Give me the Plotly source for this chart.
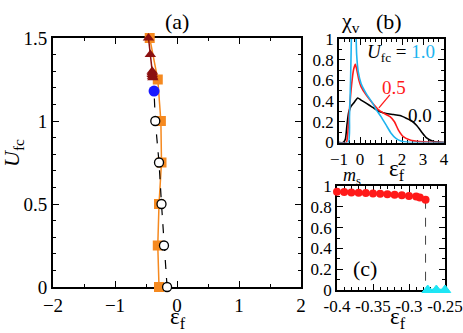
import plotly.graph_objects as go

W, H = 463, 333
SERIF = "Liberation Serif"

# ---------------- panel (a): U_fc vs eps_f ----------------
u_sq = [0.0, 0.25, 0.5, 0.75, 1.0, 1.25, 1.5]
eps_sq = [-0.29, -0.31, -0.29, -0.25, -0.26, -0.31, -0.44]

u_circ = [0.0, 0.25, 0.5, 0.75, 1.0]
eps_circ = [-0.16, -0.21, -0.25, -0.29, -0.35]

u_blue = [1.18]
eps_blue = [-0.37]

u_tri = [1.26, 1.27, 1.28, 1.29, 1.3, 1.4, 1.5]
eps_tri = [-0.39, -0.395, -0.40, -0.40, -0.40, -0.43, -0.46]

# ---------------- panel (b): chi_v vs eps_f ----------------
eps_u00 = [-1, -0.8, -0.7, -0.62, -0.54, -0.43, -0.27, -0.11, 0.05, 0.29, 0.6, 0.92,
           1.24, 1.6, 1.9, 2.2, 2.45, 2.7, 2.94, 3.17, 3.5, 4]
chi_u00 = [0, 0, 0.03, 0.17, 0.29, 0.35, 0.39, 0.43, 0.41, 0.38, 0.34, 0.30,
           0.28, 0.27, 0.26, 0.235, 0.21, 0.165, 0.10, 0.045, 0.01, 0]

eps_u05 = [-1, -0.65, -0.6, -0.51, -0.4, -0.3, -0.22, -0.15, -0.05, 0.05, 0.29, 0.6,
           0.92, 1.24, 1.43, 1.64, 1.83, 2.06, 2.38, 2.86, 4]
chi_u05 = [0, 0, 0.05, 0.30, 0.56, 0.71, 0.755, 0.70, 0.60, 0.54, 0.46, 0.38,
           0.31, 0.27, 0.25, 0.20, 0.12, 0.056, 0.024, 0.008, 0]

eps_u10 = [-1, -0.56, -0.5, -0.45, -0.42, -0.38, -0.3, -0.2, -0.16, -0.08, 0.05, 0.29,
           0.6, 0.76, 1.0, 1.24, 1.48, 1.71, 1.95, 2.3, 4]
chi_u10 = [0, 0, 0.25, 0.6, 0.9, 1.3, 1.5, 1.15, 0.85, 0.68, 0.57, 0.475,
           0.38, 0.32, 0.25, 0.17, 0.09, 0.04, 0.015, 0.003, 0]

# ---------------- panel (c): m_s vs eps_f ----------------
ms_eps = [-0.4, -0.39, -0.38, -0.37, -0.36, -0.35, -0.34, -0.33, -0.32, -0.31,
          -0.30, -0.29, -0.285, -0.277]
ms_val = [0.945, 0.942, 0.938, 0.935, 0.932, 0.928, 0.925, 0.92, 0.915, 0.91,
          0.905, 0.898, 0.89, 0.868]
ms0_eps = [-0.274, -0.262, -0.25]
ms0_val = [0, 0, 0]

ORANGE = "#f5891f"
DARKRED = "#8b1010"
BLUE = "#1a1aff"
SKY = "#1eb4f0"
RED = "#ff1a1a"
CYAN = "#1ee6f5"


def px(x):
    return x / W


def py(y):
    return 1 - y / H


fig = go.Figure()

# panel (a)
fig.add_trace(go.Scatter(x=eps_sq, y=u_sq, mode="lines+markers",
                         line=dict(color=ORANGE, width=1.5),
                         marker=dict(symbol="square", size=10, color=ORANGE),
                         xaxis="x", yaxis="y", cliponaxis=False))
fig.add_trace(go.Scatter(x=eps_circ + eps_blue, y=u_circ + u_blue, mode="lines",
                         line=dict(color="black", width=1.2, dash="dash"),
                         xaxis="x", yaxis="y"))
fig.add_trace(go.Scatter(x=eps_circ, y=u_circ, mode="markers",
                         marker=dict(symbol="circle", size=9, color="white",
                                     line=dict(color="black", width=1.3)),
                         xaxis="x", yaxis="y", cliponaxis=False))
fig.add_trace(go.Scatter(x=eps_blue, y=u_blue, mode="markers",
                         marker=dict(symbol="circle", size=11, color=BLUE),
                         xaxis="x", yaxis="y"))
fig.add_trace(go.Scatter(x=eps_tri, y=u_tri, mode="lines+markers",
                         line=dict(color=DARKRED, width=1.5),
                         marker=dict(symbol="triangle-up", size=10, color=DARKRED),
                         xaxis="x", yaxis="y", cliponaxis=False))

# panel (b)
for ex, cy, col in [(eps_u00, chi_u00, "black"), (eps_u05, chi_u05, RED),
                    (eps_u10, chi_u10, SKY)]:
    fig.add_trace(go.Scatter(x=ex, y=cy, mode="lines",
                             line=dict(color=col, width=1.6, shape="spline", smoothing=0.6),
                             xaxis="x2", yaxis="y2"))

# panel (c)
fig.add_trace(go.Scatter(x=[ms_eps[-1], ms_eps[-1]], y=[ms_val[-1], 0], mode="lines",
                         line=dict(color="#444", width=1, dash="dash"),
                         xaxis="x3", yaxis="y3"))
fig.add_trace(go.Scatter(x=ms_eps, y=ms_val, mode="lines+markers",
                         line=dict(color=RED, width=1.5),
                         marker=dict(symbol="circle", size=8, color=RED),
                         xaxis="x3", yaxis="y3", cliponaxis=False))
fig.add_trace(go.Scatter(x=ms0_eps, y=ms0_val, mode="lines+markers",
                         line=dict(color=CYAN, width=2.5),
                         marker=dict(symbol="triangle-up", size=10, color=CYAN,
                                     line=dict(color=CYAN, width=1)),
                         xaxis="x3", yaxis="y3", cliponaxis=False))


def ax(domain, rng, dtick, minor, size, lw, anchor, tickvals=None, ticktext=None):
    d = dict(domain=domain, range=rng, dtick=dtick, tick0=0, ticks="inside", ticklen=6,
             tickwidth=1.2, tickcolor="black", showline=True, linecolor="black", linewidth=lw,
             mirror="allticks", showgrid=False, zeroline=False, anchor=anchor,
             automargin=False, layer="below traces",
             tickfont=dict(family=SERIF, size=size, color="black"), tickangle=0,
             minor=dict(dtick=minor, ticks="inside", ticklen=3, tickwidth=1, tickcolor="black",
                        showgrid=False))
    if tickvals is not None:
        d.update(tickmode="array", tickvals=tickvals, ticktext=ticktext)
    return d


fig.update_layout(
    template="none",
    width=W, height=H, margin=dict(l=0, r=0, t=0, b=0, pad=0),
    paper_bgcolor="white", plot_bgcolor="white", showlegend=False,
    font=dict(family=SERIF, color="black"),
    xaxis=ax([px(53), px(301)], [-2, 2], 1, 0.5, 19, 2, "y"),
    yaxis=ax([py(287), py(38)], [0, 1.5], 0.5, 0.1, 19, 2, "x"),
    xaxis2=ax([px(339), px(444)], [-1, 4], 1, 0.25, 17, 1.5, "y2"),
    yaxis2=ax([py(142.5), py(39)], [0, 1], 0.2, 0.1, 17, 1.5, "x2"),
    xaxis3=ax([px(337), px(445)], [-0.4, -0.25], 0.05, 0.01, 17, 1.5, "y3",
              tickvals=[-0.4, -0.35, -0.3, -0.25], ticktext=["-0.4", "-0.35", "-0.3", "-0.25"]),
    yaxis3=ax([py(290), py(186)], [0, 1], 0.2, 0.1, 17, 1.5, "x3"),
)


def note(text, x, y, size, color="black", angle=0):
    fig.add_annotation(text=text, x=px(x), y=py(y), xref="paper", yref="paper",
                       showarrow=False, textangle=angle, xanchor="center", yanchor="middle",
                       font=dict(family=SERIF, size=size, color=color))


note("(a)", 177, 22, 22)
note("ε<sub>f</sub>", 178, 318, 23)
note("<i>U</i><sub>fc</sub>", 13, 153, 22, angle=-90)
note("χ<sub>v</sub>", 350, 22, 22)
note("(b)", 389, 22, 22)
note("<i>U</i><sub>fc</sub> = <span style='color:%s'>1.0</span>" % SKY, 401, 53, 19)
note("0.5", 394, 87, 19, color=RED)
note("0.0", 420, 115, 19)
note("ε<sub>f</sub>", 397, 170, 23)
note("<i>m</i><sub>s</sub>", 352, 176, 18)
note("(c)", 365, 268, 22)
note("ε<sub>f</sub>", 398, 318, 23)

# pointer from the 0.5 label to the red curve
fig.add_shape(type="line", x0=0.9, y0=0.335, x1=1.42, y1=0.46, xref="x2", yref="y2",
              line=dict(color=RED, width=1.3))

fig.write_html("out.html", config={"displayModeBar": False},
               post_script="document.body.style.margin='0';")
